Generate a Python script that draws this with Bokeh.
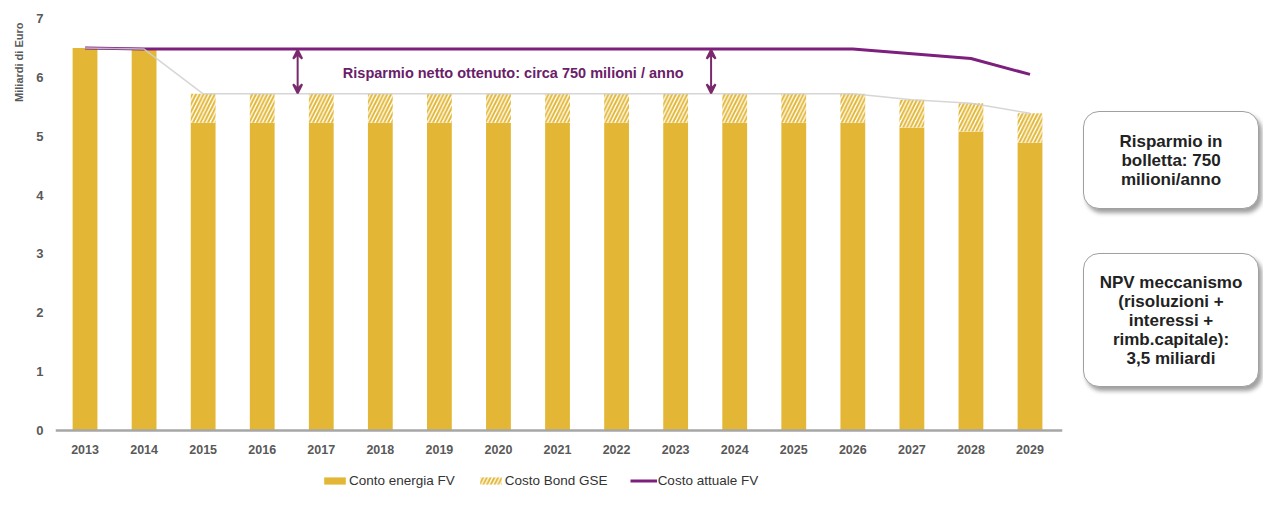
from bokeh.plotting import figure
from bokeh.models import (ColumnDataSource, Range1d, Arrow, VeeHead, Label, Legend,
                          LegendItem, Title, Div, FixedTicker)
from bokeh.layouts import row
from bokeh.embed import file_html
from bokeh.resources import INLINE

# ---------------- data ----------------
years = [2013, 2014, 2015, 2016, 2017, 2018, 2019, 2020, 2021,
         2022, 2023, 2024, 2025, 2026, 2027, 2028, 2029]
conto_energia = [6.50, 6.48, 5.23, 5.23, 5.23, 5.23, 5.23, 5.23, 5.23,
                 5.23, 5.23, 5.23, 5.23, 5.23, 5.15, 5.08, 4.89]
costo_bond = [0.00, 0.00, 0.49, 0.49, 0.49, 0.49, 0.49, 0.49, 0.49,
              0.49, 0.49, 0.49, 0.49, 0.49, 0.47, 0.48, 0.50]
costo_attuale = [6.50, 6.48, 6.48, 6.48, 6.48, 6.48, 6.48, 6.48, 6.48,
                 6.48, 6.48, 6.48, 6.48, 6.48, 6.40, 6.32, 6.05]
y_ticks = [0, 1, 2, 3, 4, 5, 6, 7]
series_names = ["Conto energia FV", "Costo Bond GSE", "Costo attuale FV"]
y_axis_title = "Miliardi di Euro"
arrow_x = [2016.6, 2023.6]
savings_text = "Risparmio netto ottenuto: circa 750 milioni / anno"
box1_lines = ["Risparmio in", "bolletta: 750", "milioni/anno"]
box2_lines = ["NPV meccanismo", "(risoluzioni +", "interessi +", "rimb.capitale):", "3,5 miliardi"]

# ---------------- styles ----------------
FONT = "Liberation Sans"
GOLD = "#E3B735"
PURPLE = "#7D1F7C"
ARROW_C = "#7A2A6C"
TEXT_PURPLE = "#6A2068"
AXIS_TXT = "#595959"

total = [c + b for c, b in zip(conto_energia, costo_bond)]
src = ColumnDataSource(dict(year=years, conto=conto_energia, total=total, attuale=costo_attuale))

p = figure(frame_width=1007, frame_height=472, output_backend="svg", toolbar_location=None,
           x_range=Range1d(2012.5, 2029.55), y_range=Range1d(-1.019, 7),
           min_border_left=55, min_border_right=5, min_border_top=18, min_border_bottom=4,
           outline_line_color=None)
p.grid.visible = False

r_conto = p.vbar(x="year", width=0.42, bottom=0, top="conto", source=src,
                 fill_color=GOLD, line_color=None)
r_bond = p.vbar(x="year", width=0.42, bottom="conto", top="total", source=src,
                fill_color="white", line_color=None, hatch_pattern="/",
                hatch_color=GOLD, hatch_weight=2, hatch_scale=7.5)
r_att = p.line(x="year", y="attuale", source=src, line_color=PURPLE, line_width=3)
p.line(x="year", y="total", source=src, line_color="#cfcfcf", line_width=1.5, line_alpha=0.85)

# arrows showing the savings gap
for ax in arrow_x:
    i = years.index(int(ax))
    head1 = VeeHead(size=9, line_color=ARROW_C, fill_color=ARROW_C, line_width=2)
    head2 = VeeHead(size=9, line_color=ARROW_C, fill_color=ARROW_C, line_width=2)
    p.add_layout(Arrow(x_start=ax, y_start=total[i] + 0.01, x_end=ax, y_end=costo_attuale[i] - 0.01,
                       start=head1, end=head2, line_color=ARROW_C, line_width=2))

i0 = years.index(int(arrow_x[0]))
p.add_layout(Label(x=sum(arrow_x) / 2 + 0.15, y=(costo_attuale[i0] + total[i0]) / 2 - 0.03,
                   text=savings_text, text_align="center", text_baseline="middle",
                   text_font=FONT, text_font_size="14.5px", text_font_style="bold",
                   text_color=TEXT_PURPLE))

# axes
p.xaxis.fixed_location = 0
p.xaxis.ticker = FixedTicker(ticks=years)
p.xaxis.axis_line_color = "#a6a6a6"
p.xaxis.axis_line_width = 2.5
p.xaxis.major_tick_line_color = None
p.xaxis.minor_tick_line_color = None
p.xaxis.major_tick_out = 0
p.xaxis.major_tick_in = 0
p.xaxis.major_label_text_font = FONT
p.xaxis.major_label_text_font_size = "12.5px"
p.xaxis.major_label_text_font_style = "bold"
p.xaxis.major_label_text_color = AXIS_TXT
p.xaxis.major_label_standoff = 14

p.yaxis.ticker = FixedTicker(ticks=y_ticks)
p.yaxis.axis_line_color = None
p.yaxis.major_tick_line_color = None
p.yaxis.minor_tick_line_color = None
p.yaxis.major_tick_out = 0
p.yaxis.major_tick_in = 0
p.yaxis.major_label_text_font = FONT
p.yaxis.major_label_text_font_size = "13px"
p.yaxis.major_label_text_font_style = "bold"
p.yaxis.major_label_text_color = AXIS_TXT
p.yaxis.major_label_standoff = 12

p.add_layout(Title(text=y_axis_title, align="right", offset=4, standoff=17, text_font=FONT,
                   text_font_size="11px", text_font_style="bold", text_color=AXIS_TXT), "left")

legend = Legend(items=[LegendItem(label=series_names[0], renderers=[r_conto]),
                       LegendItem(label=series_names[1], renderers=[r_bond]),
                       LegendItem(label=series_names[2], renderers=[r_att])],
                orientation="horizontal", location=(266, 2), border_line_color=None,
                background_fill_alpha=0, label_text_font=FONT, label_text_font_size="13.5px",
                label_text_color="#333333", glyph_width=27, glyph_height=9,
                label_standoff=1, spacing=22, padding=2, margin=0)
p.add_layout(legend, "center")

box_css = ("position:absolute; left:11px; width:176px; box-sizing:border-box;"
           "border:1px solid #a0a0a0; border-radius:16px; box-shadow:3px 4px 4px #a0a0a0;"
           "background:white; font-family:'Liberation Sans', sans-serif; font-weight:bold;"
           "font-size:17px; line-height:19px; color:#222; text-align:center;"
           "display:flex; align-items:center; justify-content:center;")
html = ('<div style="position:relative; width:190px; height:494px;">'
        f'<div style="{box_css} top:106px; height:98px;"><div>{"<br>".join(box1_lines)}</div></div>'
        f'<div style="{box_css} top:248px; height:134px;"><div>{"<br>".join(box2_lines)}</div></div>'
        '</div>')
side = Div(text=html, width=182, height=494)

layout = row(p, side)
open("out.html", "w").write(file_html(layout, INLINE))
